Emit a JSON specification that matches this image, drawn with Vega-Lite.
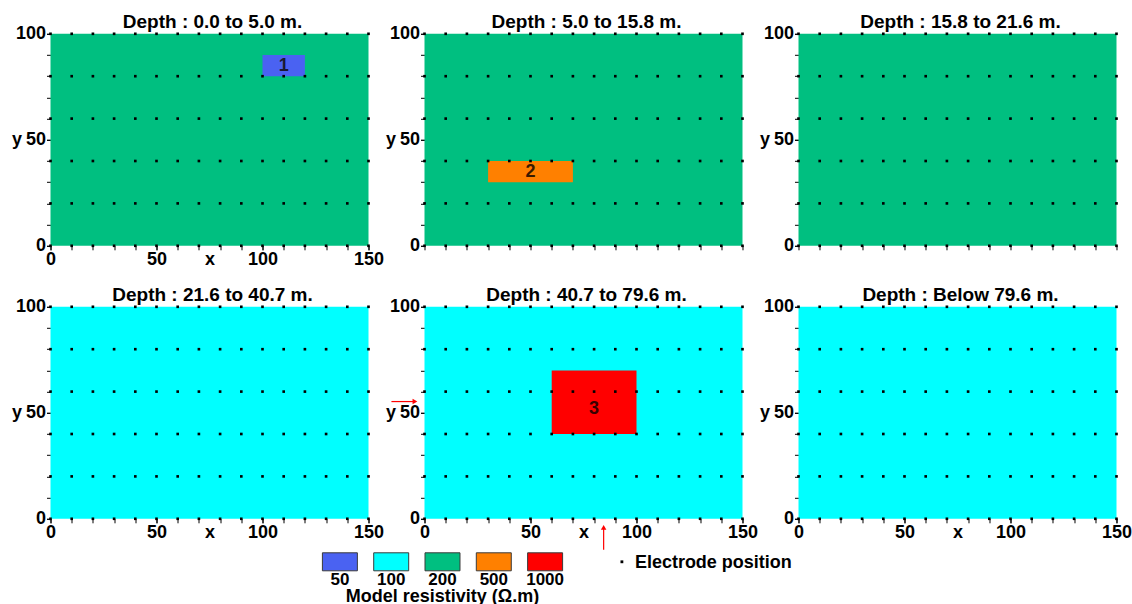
{
  "$schema": "https://vega.github.io/schema/vega-lite/v6.json",
  "padding": {"left": 10.5, "top": 12.8, "right": 0, "bottom": 0},
  "autosize": {"type": "pad"},
  "background": "white",
  "config": {
    "view": {"stroke": null},
    "font": "Liberation Sans",
    "axis": {"labelFontSize": 18, "labelFontWeight": "bold", "labelColor": "#000", "labelFont": "Liberation Sans", "titleFont": "Liberation Sans", "titleFontSize": 18, "titleFontWeight": "bold", "titleColor": "#000", "domain": false, "grid": false, "tickColor": "#000", "tickSize": 4, "tickWidth": 1, "labelPadding": 1, "labelOverlap": false, "labelFlush": false},
    "title": {"fontSize": 19, "fontWeight": "bold", "color": "#000", "font": "Liberation Sans", "offset": -7, "dx": 3}
  },
  "datasets": {
    "electrodes": [
      {"x":0,"y":0},{"x":10,"y":0},{"x":20,"y":0},{"x":30,"y":0},{"x":40,"y":0},{"x":50,"y":0},{"x":60,"y":0},{"x":70,"y":0},{"x":80,"y":0},{"x":90,"y":0},{"x":100,"y":0},{"x":110,"y":0},{"x":120,"y":0},{"x":130,"y":0},{"x":140,"y":0},{"x":150,"y":0},
      {"x":0,"y":20},{"x":10,"y":20},{"x":20,"y":20},{"x":30,"y":20},{"x":40,"y":20},{"x":50,"y":20},{"x":60,"y":20},{"x":70,"y":20},{"x":80,"y":20},{"x":90,"y":20},{"x":100,"y":20},{"x":110,"y":20},{"x":120,"y":20},{"x":130,"y":20},{"x":140,"y":20},{"x":150,"y":20},
      {"x":0,"y":40},{"x":10,"y":40},{"x":20,"y":40},{"x":30,"y":40},{"x":40,"y":40},{"x":50,"y":40},{"x":60,"y":40},{"x":70,"y":40},{"x":80,"y":40},{"x":90,"y":40},{"x":100,"y":40},{"x":110,"y":40},{"x":120,"y":40},{"x":130,"y":40},{"x":140,"y":40},{"x":150,"y":40},
      {"x":0,"y":60},{"x":10,"y":60},{"x":20,"y":60},{"x":30,"y":60},{"x":40,"y":60},{"x":50,"y":60},{"x":60,"y":60},{"x":70,"y":60},{"x":80,"y":60},{"x":90,"y":60},{"x":100,"y":60},{"x":110,"y":60},{"x":120,"y":60},{"x":130,"y":60},{"x":140,"y":60},{"x":150,"y":60},
      {"x":0,"y":80},{"x":10,"y":80},{"x":20,"y":80},{"x":30,"y":80},{"x":40,"y":80},{"x":50,"y":80},{"x":60,"y":80},{"x":70,"y":80},{"x":80,"y":80},{"x":90,"y":80},{"x":100,"y":80},{"x":110,"y":80},{"x":120,"y":80},{"x":130,"y":80},{"x":140,"y":80},{"x":150,"y":80},
      {"x":0,"y":100},{"x":10,"y":100},{"x":20,"y":100},{"x":30,"y":100},{"x":40,"y":100},{"x":50,"y":100},{"x":60,"y":100},{"x":70,"y":100},{"x":80,"y":100},{"x":90,"y":100},{"x":100,"y":100},{"x":110,"y":100},{"x":120,"y":100},{"x":130,"y":100},{"x":140,"y":100},{"x":150,"y":100}
    ]
  },
  "vconcat": [
    {
      "concat": [
        {
          "width": 318, "height": 212,
          "title": "Depth : 0.0 to 5.0 m.",
          "resolve": {"axis": {"x": "independent", "y": "independent"}},
          "layer": [
            {"data": {"values": [{"x0": 0, "x1": 150, "y0": 0, "y1": 100, "r": "200"}]}, "mark": "rect",
             "encoding": {
               "x": {"field": "x0", "type": "quantitative", "scale": {"domain": [0, 150], "nice": false, "zero": false}, "axis": {"orient": "bottom", "values": [0, 50, 100, 150], "title": "x", "titleY": 5, "titleBaseline": "top"}},
               "x2": {"field": "x1"},
               "y": {"field": "y0", "type": "quantitative", "scale": {"domain": [0, 100], "nice": false, "zero": false}, "axis": {"orient": "left", "values": [0, 50, 100], "title": "y", "titleAngle": 0, "titleX": -29, "titleY": 106, "titleAlign": "right", "titleBaseline": "middle"}},
               "y2": {"field": "y1"},
               "color": {"field": "r", "type": "nominal", "scale": {"domain": ["50","100","200","500","1000"], "range": ["#4A62F2","#00FFFF","#00BF80","#FF8000","#FF0000"]}, "legend": null}
             }},
            {"data": {"values": [{"x0": 100, "x1": 120, "y0": 80, "y1": 90, "lx": 110, "ly": 85, "r": "50", "label": "1"}]}, "layer": [
              {"mark": "rect", "encoding": {"x": {"field": "x0", "type": "quantitative", "axis": null}, "x2": {"field": "x1"}, "y": {"field": "y0", "type": "quantitative", "axis": null}, "y2": {"field": "y1"}, "color": {"field": "r", "type": "nominal", "legend": null}}},
              {"mark": {"type": "text", "fontSize": 18, "fontWeight": "bold", "color": "#1a1a33"}, "encoding": {"x": {"field": "lx", "type": "quantitative", "axis": null}, "y": {"field": "ly", "type": "quantitative", "axis": null}, "text": {"field": "label"}}}
            ]},
            {"data": {"name": "electrodes"}, "mark": {"type": "point", "shape": "square", "filled": true, "size": 7, "color": "#000", "opacity": 1},
             "encoding": {"x": {"field": "x", "type": "quantitative", "axis": {"orient": "bottom", "values": [0,10,20,30,40,50,60,70,80,90,100,110,120,130,140,150], "labels": false, "title": null}}, "y": {"field": "y", "type": "quantitative", "axis": {"orient": "left", "values": [0,10,20,30,40,50,60,70,80,90,100], "labels": false, "title": null}}}}
          ]
        },
        {
          "width": 318, "height": 212,
          "title": "Depth : 5.0 to 15.8 m.",
          "resolve": {"axis": {"x": "independent", "y": "independent"}},
          "layer": [
            {"data": {"values": [{"x0": 0, "x1": 150, "y0": 0, "y1": 100, "r": "200"}]}, "mark": "rect",
             "encoding": {
               "x": {"field": "x0", "type": "quantitative", "scale": {"domain": [0, 150], "nice": false, "zero": false}, "axis": null},
               "x2": {"field": "x1"},
               "y": {"field": "y0", "type": "quantitative", "scale": {"domain": [0, 100], "nice": false, "zero": false}, "axis": {"orient": "left", "values": [0, 50, 100], "title": "y", "titleAngle": 0, "titleX": -29, "titleY": 106, "titleAlign": "right", "titleBaseline": "middle"}},
               "y2": {"field": "y1"},
               "color": {"field": "r", "type": "nominal", "scale": {"domain": ["50","100","200","500","1000"], "range": ["#4A62F2","#00FFFF","#00BF80","#FF8000","#FF0000"]}, "legend": null}
             }},
            {"data": {"values": [{"x0": 30, "x1": 70, "y0": 30, "y1": 40, "lx": 50, "ly": 35, "r": "500", "label": "2"}]}, "layer": [
              {"mark": "rect", "encoding": {"x": {"field": "x0", "type": "quantitative", "axis": null}, "x2": {"field": "x1"}, "y": {"field": "y0", "type": "quantitative", "axis": null}, "y2": {"field": "y1"}, "color": {"field": "r", "type": "nominal", "legend": null}}},
              {"mark": {"type": "text", "fontSize": 18, "fontWeight": "bold", "color": "#3a1a00"}, "encoding": {"x": {"field": "lx", "type": "quantitative", "axis": null}, "y": {"field": "ly", "type": "quantitative", "axis": null}, "text": {"field": "label"}}}
            ]},
            {"data": {"name": "electrodes"}, "mark": {"type": "point", "shape": "square", "filled": true, "size": 7, "color": "#000", "opacity": 1},
             "encoding": {"x": {"field": "x", "type": "quantitative", "axis": {"orient": "bottom", "values": [0,10,20,30,40,50,60,70,80,90,100,110,120,130,140,150], "labels": false, "title": null}}, "y": {"field": "y", "type": "quantitative", "axis": {"orient": "left", "values": [0,10,20,30,40,50,60,70,80,90,100], "labels": false, "title": null}}}}
          ]
        },
        {
          "width": 318, "height": 212,
          "title": "Depth : 15.8 to 21.6 m.",
          "resolve": {"axis": {"x": "independent", "y": "independent"}},
          "layer": [
            {"data": {"values": [{"x0": 0, "x1": 150, "y0": 0, "y1": 100, "r": "200"}]}, "mark": "rect",
             "encoding": {
               "x": {"field": "x0", "type": "quantitative", "scale": {"domain": [0, 150], "nice": false, "zero": false}, "axis": null},
               "x2": {"field": "x1"},
               "y": {"field": "y0", "type": "quantitative", "scale": {"domain": [0, 100], "nice": false, "zero": false}, "axis": {"orient": "left", "values": [0, 50, 100], "title": "y", "titleAngle": 0, "titleX": -29, "titleY": 106, "titleAlign": "right", "titleBaseline": "middle"}},
               "y2": {"field": "y1"},
               "color": {"field": "r", "type": "nominal", "scale": {"domain": ["50","100","200","500","1000"], "range": ["#4A62F2","#00FFFF","#00BF80","#FF8000","#FF0000"]}, "legend": null}
             }},
            {"data": {"name": "electrodes"}, "mark": {"type": "point", "shape": "square", "filled": true, "size": 7, "color": "#000", "opacity": 1},
             "encoding": {"x": {"field": "x", "type": "quantitative", "axis": {"orient": "bottom", "values": [0,10,20,30,40,50,60,70,80,90,100,110,120,130,140,150], "labels": false, "title": null}}, "y": {"field": "y", "type": "quantitative", "axis": {"orient": "left", "values": [0,10,20,30,40,50,60,70,80,90,100], "labels": false, "title": null}}}}
          ]
        },
        {
          "width": 318, "height": 212,
          "title": "Depth : 21.6 to 40.7 m.",
          "resolve": {"axis": {"x": "independent", "y": "independent"}},
          "layer": [
            {"data": {"values": [{"x0": 0, "x1": 150, "y0": 0, "y1": 100, "r": "100"}]}, "mark": "rect",
             "encoding": {
               "x": {"field": "x0", "type": "quantitative", "scale": {"domain": [0, 150], "nice": false, "zero": false}, "axis": {"orient": "bottom", "values": [0, 50, 100, 150], "title": "x", "titleY": 5, "titleBaseline": "top"}},
               "x2": {"field": "x1"},
               "y": {"field": "y0", "type": "quantitative", "scale": {"domain": [0, 100], "nice": false, "zero": false}, "axis": {"orient": "left", "values": [0, 50, 100], "title": "y", "titleAngle": 0, "titleX": -29, "titleY": 106, "titleAlign": "right", "titleBaseline": "middle"}},
               "y2": {"field": "y1"},
               "color": {"field": "r", "type": "nominal", "scale": {"domain": ["50","100","200","500","1000"], "range": ["#4A62F2","#00FFFF","#00BF80","#FF8000","#FF0000"]}, "legend": null}
             }},
            {"data": {"name": "electrodes"}, "mark": {"type": "point", "shape": "square", "filled": true, "size": 7, "color": "#000", "opacity": 1},
             "encoding": {"x": {"field": "x", "type": "quantitative", "axis": {"orient": "bottom", "values": [0,10,20,30,40,50,60,70,80,90,100,110,120,130,140,150], "labels": false, "title": null}}, "y": {"field": "y", "type": "quantitative", "axis": {"orient": "left", "values": [0,10,20,30,40,50,60,70,80,90,100], "labels": false, "title": null}}}}
          ]
        },
        {
          "width": 318, "height": 212,
          "title": "Depth : 40.7 to 79.6 m.",
          "resolve": {"axis": {"x": "independent", "y": "independent"}},
          "layer": [
            {"data": {"values": [{"x0": 0, "x1": 150, "y0": 0, "y1": 100, "r": "100"}]}, "mark": "rect",
             "encoding": {
               "x": {"field": "x0", "type": "quantitative", "scale": {"domain": [0, 150], "nice": false, "zero": false}, "axis": {"orient": "bottom", "values": [0, 50, 100, 150], "title": "x", "titleY": 5, "titleBaseline": "top"}},
               "x2": {"field": "x1"},
               "y": {"field": "y0", "type": "quantitative", "scale": {"domain": [0, 100], "nice": false, "zero": false}, "axis": {"orient": "left", "values": [0, 50, 100], "title": "y", "titleAngle": 0, "titleX": -29, "titleY": 106, "titleAlign": "right", "titleBaseline": "middle"}},
               "y2": {"field": "y1"},
               "color": {"field": "r", "type": "nominal", "scale": {"domain": ["50","100","200","500","1000"], "range": ["#4A62F2","#00FFFF","#00BF80","#FF8000","#FF0000"]}, "legend": null}
             }},
            {"data": {"values": [{"x0": 60, "x1": 100, "y0": 40, "y1": 70, "lx": 80, "ly": 52, "r": "1000", "label": "3"}]}, "layer": [
              {"mark": "rect", "encoding": {"x": {"field": "x0", "type": "quantitative", "axis": null}, "x2": {"field": "x1"}, "y": {"field": "y0", "type": "quantitative", "axis": null}, "y2": {"field": "y1"}, "color": {"field": "r", "type": "nominal", "legend": null}}},
              {"mark": {"type": "text", "fontSize": 18, "fontWeight": "bold", "color": "#3a0000"}, "encoding": {"x": {"field": "lx", "type": "quantitative", "axis": null}, "y": {"field": "ly", "type": "quantitative", "axis": null}, "text": {"field": "label"}}}
            ]},
            {"data": {"name": "electrodes"}, "mark": {"type": "point", "shape": "square", "filled": true, "size": 7, "color": "#000", "opacity": 1},
             "encoding": {"x": {"field": "x", "type": "quantitative", "axis": {"orient": "bottom", "values": [0,10,20,30,40,50,60,70,80,90,100,110,120,130,140,150], "labels": false, "title": null}}, "y": {"field": "y", "type": "quantitative", "axis": {"orient": "left", "values": [0,10,20,30,40,50,60,70,80,90,100], "labels": false, "title": null}}}},
            {"data": {"values": [{"ax": 84.5, "ay": -14.6, "bx": 84.5, "by": -4.0, "dir": "up"}, {"ax": -15.6, "ay": 55.3, "bx": -4.5, "by": 55.3, "dir": "right"}]}, "layer": [
              {"mark": {"type": "rule", "color": "#FF0000", "strokeWidth": 1.2}, "encoding": {"x": {"field": "ax", "type": "quantitative", "axis": null}, "y": {"field": "ay", "type": "quantitative", "axis": null}, "x2": {"field": "bx"}, "y2": {"field": "by"}}},
              {"mark": {"type": "point", "filled": true, "color": "#FF0000", "opacity": 1, "size": 30}, "encoding": {"x": {"field": "bx", "type": "quantitative", "axis": null}, "y": {"field": "by", "type": "quantitative", "axis": null}, "shape": {"field": "dir", "type": "nominal", "scale": {"domain": ["up", "right"], "range": ["triangle-up", "triangle-right"]}, "legend": null}}}
            ]}
          ]
        },
        {
          "width": 318, "height": 212,
          "title": "Depth : Below 79.6 m.",
          "resolve": {"axis": {"x": "independent", "y": "independent"}},
          "layer": [
            {"data": {"values": [{"x0": 0, "x1": 150, "y0": 0, "y1": 100, "r": "100"}]}, "mark": "rect",
             "encoding": {
               "x": {"field": "x0", "type": "quantitative", "scale": {"domain": [0, 150], "nice": false, "zero": false}, "axis": {"orient": "bottom", "values": [0, 50, 100, 150], "title": "x", "titleY": 5, "titleBaseline": "top"}},
               "x2": {"field": "x1"},
               "y": {"field": "y0", "type": "quantitative", "scale": {"domain": [0, 100], "nice": false, "zero": false}, "axis": {"orient": "left", "values": [0, 50, 100], "title": "y", "titleAngle": 0, "titleX": -29, "titleY": 106, "titleAlign": "right", "titleBaseline": "middle"}},
               "y2": {"field": "y1"},
               "color": {"field": "r", "type": "nominal", "scale": {"domain": ["50","100","200","500","1000"], "range": ["#4A62F2","#00FFFF","#00BF80","#FF8000","#FF0000"]}, "legend": null}
             }},
            {"data": {"name": "electrodes"}, "mark": {"type": "point", "shape": "square", "filled": true, "size": 7, "color": "#000", "opacity": 1},
             "encoding": {"x": {"field": "x", "type": "quantitative", "axis": {"orient": "bottom", "values": [0,10,20,30,40,50,60,70,80,90,100,110,120,130,140,150], "labels": false, "title": null}}, "y": {"field": "y", "type": "quantitative", "axis": {"orient": "left", "values": [0,10,20,30,40,50,60,70,80,90,100], "labels": false, "title": null}}}}
          ]
        }
      ],
      "columns": 3,
      "spacing": {"row": 61, "column": 56},
      "bounds": "flush"
    },
    {
      "width": 600, "height": 18,
      "data": {"values": [{"k": "50"}, {"k": "100"}, {"k": "200"}, {"k": "500"}, {"k": "1000"}, {"k": "e"}]},
      "layer": [
        {"transform": [{"filter": "datum.k !== 'e'"}], "mark": {"type": "rect", "stroke": "#3a3a3a", "strokeWidth": 1},
         "encoding": {
           "x": {"field": "k", "type": "ordinal", "sort": null, "scale": {"domain": ["50","100","200","500","1000","e"], "range": [271.9, 563.4], "paddingInner": 0.318, "paddingOuter": 0}, "axis": null},
           "color": {"field": "k", "type": "nominal", "scale": {"domain": ["50","100","200","500","1000"], "range": ["#4A62F2","#00FFFF","#00BF80","#FF8000","#FF0000"]}, "legend": null}
         }},
        {"transform": [{"filter": "datum.k !== 'e'"}], "mark": {"type": "text", "fontSize": 17, "fontWeight": "bold", "color": "#000", "dy": 18},
         "encoding": {"x": {"field": "k", "type": "ordinal", "sort": null}, "text": {"field": "k"}}},
        {"transform": [{"filter": "datum.k === '200'"}], "mark": {"type": "text", "fontSize": 18, "fontWeight": "bold", "color": "#000", "dy": 35},
         "encoding": {"x": {"field": "k", "type": "ordinal", "sort": null}, "text": {"value": "Model resistivity (Ω.m)"}}},
        {"transform": [{"filter": "datum.k === 'e'"}], "mark": {"type": "point", "shape": "square", "filled": true, "size": 8, "color": "#000", "opacity": 1, "xOffset": 8},
         "encoding": {"x": {"field": "k", "type": "ordinal", "sort": null, "bandPosition": 1}}},
        {"transform": [{"filter": "datum.k === 'e'"}], "mark": {"type": "text", "fontSize": 18, "fontWeight": "bold", "color": "#000", "align": "left", "dx": 21, "dy": 1},
         "encoding": {"x": {"field": "k", "type": "ordinal", "sort": null, "bandPosition": 1}, "text": {"value": "Electrode position"}}}
      ]
    }
  ],
  "spacing": 1
}
